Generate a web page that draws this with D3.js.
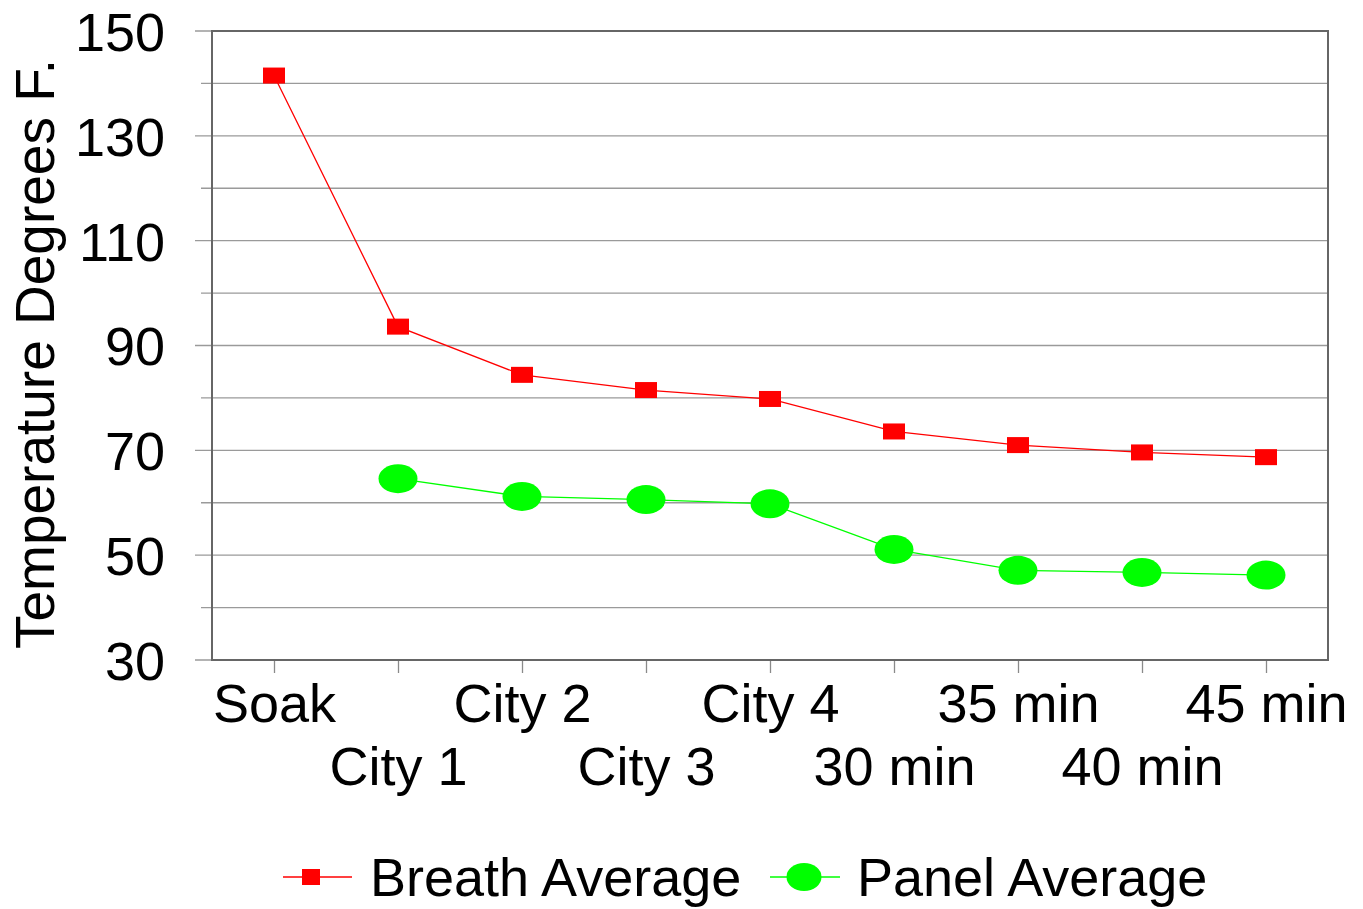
<!DOCTYPE html>
<html>
<head>
<meta charset="utf-8">
<script src="https://d3js.org/d3.v7.min.js"></script>
<style>
  body { margin: 0; background: #fff; }
  text { font-family: "Liberation Sans", Arial, sans-serif; fill: #000; }
</style>
</head>
<body>
<div id="chart"></div>
<script>
// categories and series
var categories = ["Soak", "City 1", "City 2", "City 3", "City 4", "30 min", "35 min", "40 min", "45 min"];
var breathAverage = [141.5, 93.6, 84.4, 81.5, 79.8, 73.6, 71.0, 69.6, 68.7];
var panelAverage = [null, 64.6, 61.2, 60.6, 59.8, 51.1, 47.1, 46.7, 46.2];
var yTicks = [30, 50, 70, 90, 110, 130, 150];
var yGrid = [40, 60, 80, 100, 120, 140];

var W = 1363, H = 909;
var margin = {top: 31, left: 212, right: 35, bottom: 249};
var width = W - margin.left - margin.right, height = H - margin.top - margin.bottom;

var svg = d3.select("#chart").append("svg")
    .attr("width", W).attr("height", H);
var g = svg.append("g")
    .attr("transform", "translate(" + margin.left + "," + margin.top + ")");

var x = d3.scalePoint().domain(categories).range([0, width]).padding(0.5);
var y = d3.scaleLinear().domain([30, 150]).range([height, 0]);

// gridlines, all every 10 degrees
g.selectAll(".grid")
  .data(yTicks.concat(yGrid))
  .enter().append("line")
    .attr("x1", function(d) { return yTicks.indexOf(d) >= 0 ? -17 : -11; })
    .attr("x2", width)
    .attr("y1", function(d) { return y(d); })
    .attr("y2", function(d) { return y(d); })
    .style("stroke", "#9a9a9a")
    .style("stroke-width", 1.3);

// y axis labels
var yAxis = g.append("g").call(d3.axisLeft(y).tickValues(yTicks).tickSize(0).tickPadding(47));
yAxis.select(".domain").remove();
yAxis.selectAll("text")
    .style("font-size", "54px")
    .style("font-family", "Liberation Sans, Arial, sans-serif")
    .attr("dy", "0.36em");

// x axis
var xAxis = g.append("g")
    .attr("transform", "translate(0," + height + ")")
    .call(d3.axisBottom(x).tickSize(13).tickPadding(0));
xAxis.select(".domain").remove();
xAxis.selectAll("line").style("stroke", "#8a8a8a").style("stroke-width", 1.3);
xAxis.selectAll("text")
    .style("font-size", "54px")
    .style("font-family", "Liberation Sans, Arial, sans-serif")
    .attr("y", function(d, i) { return i % 2 === 0 ? 62 : 125; })
    .attr("dy", 0);

// plot frame
g.append("rect")
    .attr("width", width).attr("height", height)
    .style("fill", "none")
    .style("stroke", "#666")
    .style("stroke-width", 2);

// y axis title
svg.append("text")
    .attr("transform", "translate(54,354) rotate(-90)")
    .attr("text-anchor", "middle")
    .style("font-size", "55px")
    .text("Temperature Degrees F.");

// lines
var line = d3.line()
    .x(function(d) { return x(d.c); })
    .y(function(d) { return y(d.v); });

function toPoints(vals) {
  return categories.map(function(c, i) { return {c: c, v: vals[i]}; })
    .filter(function(d) { return d.v !== null; });
}

var breathPts = toPoints(breathAverage);
var panelPts = toPoints(panelAverage);

g.append("path").datum(breathPts)
    .attr("d", line)
    .style("fill", "none").style("stroke", "#ff0000").style("stroke-width", 1.3);
g.append("path").datum(panelPts)
    .attr("d", line)
    .style("fill", "none").style("stroke", "#00ff00").style("stroke-width", 1.3);

g.selectAll(".sq").data(breathPts).enter().append("rect")
    .attr("x", function(d) { return x(d.c) - 11; })
    .attr("y", function(d) { return y(d.v) - 8; })
    .attr("width", 22).attr("height", 16)
    .style("fill", "#ff0000");

g.selectAll(".dot").data(panelPts).enter().append("ellipse")
    .attr("cx", function(d) { return x(d.c); })
    .attr("cy", function(d) { return y(d.v); })
    .attr("rx", 19.5).attr("ry", 14.5)
    .style("fill", "#00ff00");

// legend
var legend = svg.append("g").attr("transform", "translate(0,877)");
legend.append("line").attr("x1", 283).attr("x2", 352).attr("y1", 0).attr("y2", 0)
    .style("stroke", "#ff0000").style("stroke-width", 1.3);
legend.append("rect").attr("x", 302).attr("y", -8).attr("width", 18).attr("height", 16)
    .style("fill", "#ff0000");
legend.append("text").attr("x", 370).attr("y", 19).style("font-size", "54px").text("Breath Average");
legend.append("line").attr("x1", 770).attr("x2", 840).attr("y1", 0).attr("y2", 0)
    .style("stroke", "#00ff00").style("stroke-width", 1.3);
legend.append("ellipse").attr("cx", 804).attr("cy", 0).attr("rx", 17.5).attr("ry", 14)
    .style("fill", "#00ff00");
legend.append("text").attr("x", 857).attr("y", 19).style("font-size", "54px").text("Panel Average");
</script>
</body>
</html>
